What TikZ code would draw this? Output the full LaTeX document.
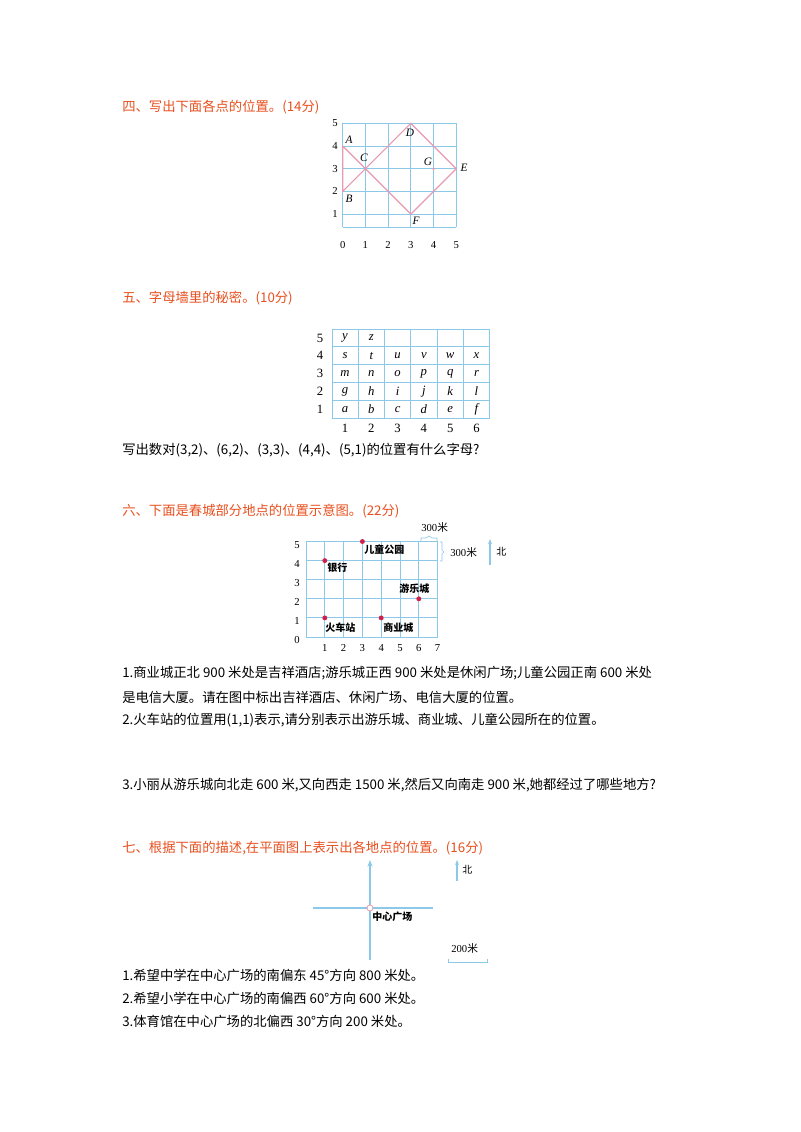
\documentclass[tikz,border=0pt]{standalone}
\usepackage{fontspec}
\setmainfont{Liberation Serif}
\newfontfamily\cjk{Noto Sans CJK SC}
\usetikzlibrary{arrows.meta,decorations.pathreplacing}
\definecolor{ttl}{HTML}{E8501F}
\definecolor{gridc}{HTML}{8CC8E8}
\definecolor{pinkl}{HTML}{E89AB0}
\definecolor{dotc}{HTML}{D0204A}
\tikzset{
 title/.style={anchor=west,text=ttl,font=\cjk\fontsize{10}{12}\selectfont,inner sep=0},
 body/.style={anchor=west,font=\cjk\fontsize{10}{12}\selectfont,inner sep=0},
 num/.style={font=\fontsize{8}{9}\selectfont,inner sep=0},
 lab/.style={font=\itshape\fontsize{8.5}{10}\selectfont,inner sep=0},
 place/.style={anchor=west,font=\cjk\bfseries\fontsize{7.5}{9}\selectfont,inner sep=0},
 gl/.style={draw=gridc,line width=0.7pt},
 dot/.style={circle,fill=dotc,inner sep=1.3pt},
}
\begin{document}
\begin{tikzpicture}[x=0.75pt,y=-0.75pt]
\useasboundingbox[fill=white] (0,0) rectangle (800,1132);
% ---- Section 4
\node[title] (t4) at (122,107) {四、写出下面各点的位置。(14分)};
\foreach \i in {0,...,5}{
 \draw[gl] (342.7+22.7*\i,123.3) -- (342.7+22.7*\i,227);
 \node[num] (x4\i) at (342.7+22.7*\i,245) {\i};
}
\foreach \j in {1,...,5}{
 \draw[gl] (342.7,236.8-22.7*\j) -- (456.2,236.8-22.7*\j);
 \node[num] (y4\j) at (335,236.8-22.7*\j) {\j};
}
\draw[gl] (342.7,227) -- (456.2,227);
\coordinate (A) at (342.7,146);
\coordinate (B) at (342.7,191.4);
\coordinate (C) at (365.4,168.7);
\coordinate (D) at (410.8,123.3);
\coordinate (E) at (456.2,168.7);
\coordinate (F) at (410.8,214.1);
\coordinate (G) at (433.5,168.7);
\draw[pinkl,line width=0.9pt] (A) -- (B) -- (C) -- (D) -- (E) -- (F) -- (C) -- (A);
\fill[pinkl] (G) circle (1pt);
\node[lab] (lA) at (349,140) {A};
\node[lab] (lB) at (349,199) {B};
\node[lab] (lC) at (364,158) {C};
\node[lab] (lD) at (410,133) {D};
\node[lab] (lE) at (464,168) {E};
\node[lab] (lF) at (416,221) {F};
\node[lab] (lG) at (428,162) {G};
% ---- Section 5
\node[title] (t5) at (122,298) {五、字母墙里的秘密。(10分)};
\foreach \i in {0,...,6}{ \draw[gl] (332+26.3*\i,329) -- (332+26.3*\i,418); }
\foreach \j in {0,...,5}{ \draw[gl] (332,329+17.8*\j) -- (489.8,329+17.8*\j); }
\foreach \r/\letters in {5/{y,z},4/{s,t,u,v,w,x},3/{m,n,o,p,q,r},2/{g,h,i,j,k,l},1/{a,b,c,d,e,f}}{
 \node[num,font=\fontsize{9.5}{11}\selectfont] (r5\r) at (320,427-17.8*\r) {\r};
 \foreach \L [count=\c] in \letters {
  \node[lab,font=\itshape\fontsize{9.5}{11}\selectfont] (c\r\c) at (345+26.3*\c-26.3,427-17.8*\r) {\L};
 }
}
\foreach \c in {1,...,6}{ \node[num,font=\fontsize{9.5}{11}\selectfont] (n5\c) at (345+26.3*\c-26.3,428) {\c}; }
\node[body] (q5) at (122,450) {写出数对(3,2)、(6,2)、(3,3)、(4,4)、(5,1)的位置有什么字母?};
% ---- Section 6
\node[title] (t6) at (122,511) {六、下面是春城部分地点的位置示意图。(22分)};
\foreach \i in {0,...,7}{ \draw[gl] (306+18.8*\i,541.5) -- (306+18.8*\i,637); }
\foreach \j in {0,...,5}{ \draw[gl] (306,637-19.1*\j) -- (437.6,637-19.1*\j); }
\foreach \i in {1,...,7}{ \node[num] (x6\i) at (306+18.8*\i,648) {\i}; }
\foreach \j in {0,...,5}{ \node[num] (y6\j) at (297,637-19*\j+3) {\j}; }
\node[dot] (park) at (362.4,541.5) {};
\node[dot] (bank) at (324.8,560.6) {};
\node[dot] (amus) at (418.8,598.8) {};
\node[dot] (stat) at (324.8,617.9) {};
\node[dot] (mall) at (381.2,617.9) {};
\node[place] at (364,550) {儿童公园};
\node[place] at (327,568) {银行};
\node[place] at (399,589) {游乐城};
\node[place] at (325,628) {火车站};
\node[place] at (383,628) {商业城};
\draw[gridc,line width=0.5pt] (421,541) -- (421,538) -- (426,538) -- (429,536) -- (432,538) -- (437,538) -- (437,541);
\node[body,font=\fontsize{8}{9}\selectfont] (s300a) at (421,527) {300{\cjk 米}};
\draw[gridc,line width=0.5pt] (440,542) -- (442,542) -- (442,550) -- (444,552) -- (442,554) -- (442,561) -- (440,561);
\node[body,font=\fontsize{8}{9}\selectfont] (s300b) at (450,552) {300{\cjk 米}};
\coordinate (n6a) at (490,565);
\coordinate (n6b) at (490,539);
\draw[gridc,line width=0.8pt,-{Stealth[length=4pt]}] (n6a) -- (n6b);
\node[place,font=\cjk\fontsize{7.5}{9}\selectfont] (bei6) at (496,552) {北};
\node[body] (p1) at (122,673) {1.商业城正北 900 米处是吉祥酒店;游乐城正西 900 米处是休闲广场;儿童公园正南 600 米处};
\node[body] (p1b) at (122,697) {是电信大厦。请在图中标出吉祥酒店、休闲广场、电信大厦的位置。};
\node[body] (p2) at (122,720) {2.火车站的位置用(1,1)表示,请分别表示出游乐城、商业城、儿童公园所在的位置。};
\node[body] (p3) at (122,785) {3.小丽从游乐城向北走 600 米,又向西走 1500 米,然后又向南走 900 米,她都经过了哪些地方?};
% ---- Section 7
\node[title] (t7) at (122,848) {七、根据下面的描述,在平面图上表示出各地点的位置。(16分)};
\coordinate (vb) at (370,960);
\coordinate (vt) at (370,860);
\coordinate (hl) at (313,908);
\coordinate (hr) at (433,908);
\draw[gridc,line width=0.8pt,-{Stealth[length=5pt]}] (vb) -- (vt);
\draw[gridc,line width=0.8pt] (hl) -- (hr);
\node[circle,draw=pinkl,fill=white,line width=0.6pt,inner sep=1.6pt] (ctr) at (370,908) {};
\node[place] (ctrl) at (372,917) {中心广场};
\coordinate (n7a) at (457,881);
\coordinate (n7b) at (457,860);
\draw[gridc,line width=0.8pt,-{Stealth[length=4pt]}] (n7a) -- (n7b);
\node[place,font=\cjk\fontsize{7.5}{9}\selectfont] (bei7) at (462,870) {北};
\node[body,font=\fontsize{8}{9}\selectfont] (s200) at (451,948) {200{\cjk 米}};
\draw[gridc,line width=0.7pt] (448,959) -- (448,962) -- (487,962) -- (487,959);
\node[body] (q1) at (122,975) {1.希望中学在中心广场的南偏东 45°方向 800 米处。};
\node[body] (q2) at (122,998) {2.希望小学在中心广场的南偏西 60°方向 600 米处。};
\node[body] (q3) at (122,1021) {3.体育馆在中心广场的北偏西 30°方向 200 米处。};
\end{tikzpicture}
\end{document}
